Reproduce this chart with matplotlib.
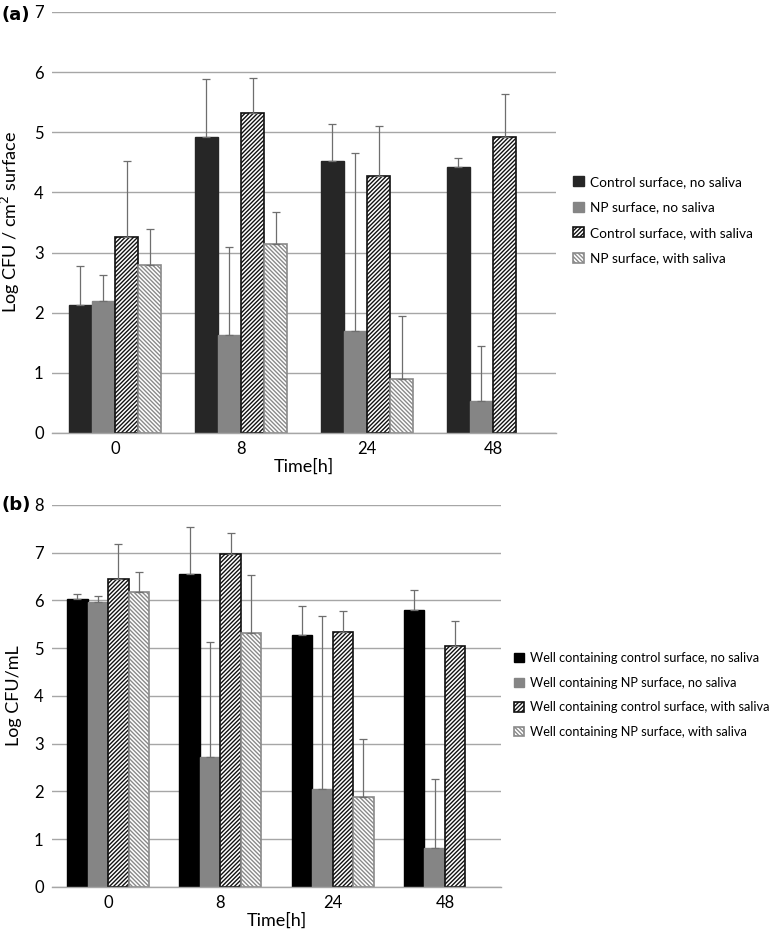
import numpy as np
import matplotlib.pyplot as plt
from matplotlib.patches import Patch

plt.rcParams['font.family'] = ['Lato', 'DejaVu Sans']
plt.rcParams['hatch.linewidth'] = 1.0

times = ['0', '8', '24', '48']

# panel (a): Log CFU / cm2 surface
a_labels = ['Control surface, no saliva', 'NP surface, no saliva',
            'Control surface, with saliva', 'NP surface, with saliva']
a_ctrl = [2.12, 4.92, 4.53, 4.43]
a_np = [2.19, 1.63, 1.70, 0.53]
a_ctrl_sal = [3.26, 5.32, 4.28, 4.92]
a_np_sal = [2.79, 3.14, 0.90, np.nan]
a_ctrl_top = [2.77, 5.88, 5.13, 4.57]
a_np_top = [2.63, 3.09, 4.65, 1.45]
a_ctrl_sal_top = [4.52, 5.91, 5.10, 5.63]
a_np_sal_top = [3.39, 3.68, 1.95, np.nan]

# panel (b): Log CFU / mL
b_labels = ['Well containing control surface, no saliva', 'Well containing NP surface, no saliva',
            'Well containing control surface, with saliva', 'Well containing NP surface, with saliva']
b_ctrl = [6.04, 6.55, 5.28, 5.79]
b_np = [5.97, 2.73, 2.06, 0.82]
b_ctrl_sal = [6.46, 6.98, 5.35, 5.05]
b_np_sal = [6.18, 5.32, 1.88, np.nan]
b_ctrl_top = [6.14, 7.53, 5.89, 6.22]
b_np_top = [6.09, 5.13, 5.67, 2.27]
b_ctrl_sal_top = [7.19, 7.41, 5.78, 5.56]
b_np_sal_top = [6.60, 6.54, 3.10, np.nan]


def panel(ax, series, tops, labels, dark, ymax, ylabel, leg_anchor, leg_fs):
    x = np.arange(len(times))
    w = 0.183
    styles = [
        dict(color=dark, edgecolor=dark),
        dict(color='#858585', edgecolor='#858585'),
        dict(facecolor='white', edgecolor='#111111', hatch='////////', linewidth=1.2),
        dict(facecolor='white', edgecolor='#8a8a8a', hatch='\\\\\\\\\\\\\\\\', linewidth=1.2),
    ]
    handles = []
    for i, (vals, top, st) in enumerate(zip(series, tops, styles)):
        vals = np.array(vals, dtype=float)
        top = np.array(top, dtype=float)
        pos = x + (i - 1.5) * w
        ok = ~np.isnan(vals)
        ax.bar(pos[ok], vals[ok], w, zorder=2, **st)
        err = top[ok] - vals[ok]
        ax.errorbar(pos[ok], vals[ok], yerr=[np.zeros_like(err), err], fmt='none',
                    ecolor='#6e6e6e', elinewidth=0.9, capsize=3, capthick=0.9, zorder=3)
        handles.append(Patch(label=labels[i], **st))
    ax.set_xlim(-0.5, len(times) - 0.5)
    ax.set_ylim(0, ymax)
    ax.set_yticks(range(ymax + 1))
    ax.set_xticks(x)
    ax.set_xticklabels(times)
    ax.yaxis.grid(True, color='#a6a6a6', linewidth=1.0, zorder=0)
    ax.set_axisbelow(True)
    for s in ['top', 'right', 'left']:
        ax.spines[s].set_visible(False)
    ax.spines['bottom'].set_color('#a6a6a6')
    ax.spines['bottom'].set_linewidth(1.0)
    ax.tick_params(length=0, labelsize=12, pad=6)
    ax.set_xlabel('Time[h]', fontsize=13, labelpad=1)
    ax.set_ylabel(ylabel, fontsize=13, labelpad=9)
    fig.legend(handles=handles, loc='upper left', bbox_to_anchor=leg_anchor, frameon=False,
               fontsize=leg_fs, handlelength=0.75, handleheight=0.75, handletextpad=0.5,
               labelspacing=1.0, borderaxespad=0)


fig = plt.figure(figsize=(7.77, 9.36), dpi=100)
ax1 = fig.add_axes([0.0669, 0.5374, 0.6487, 0.4498])
ax2 = fig.add_axes([0.0669, 0.0524, 0.578, 0.4081])

panel(ax1, [a_ctrl, a_np, a_ctrl_sal, a_np_sal],
      [a_ctrl_top, a_np_top, a_ctrl_sal_top, a_np_sal_top],
      a_labels, '#262626', 7, 'Log CFU / cm$^2$ surface', (0.731, 0.818), 9.8)
panel(ax2, [b_ctrl, b_np, b_ctrl_sal, b_np_sal],
      [b_ctrl_top, b_np_top, b_ctrl_sal_top, b_np_sal_top],
      b_labels, '#000000', 8, 'Log CFU/mL', (0.655, 0.309), 9.2)

fig.text(0.002, 0.984, '(a)', fontsize=13, fontweight='bold', va='center', family='DejaVu Sans')
fig.text(0.002, 0.461, '(b)', fontsize=13, fontweight='bold', va='center', family='DejaVu Sans')

fig.savefig('out.png', dpi=100)
